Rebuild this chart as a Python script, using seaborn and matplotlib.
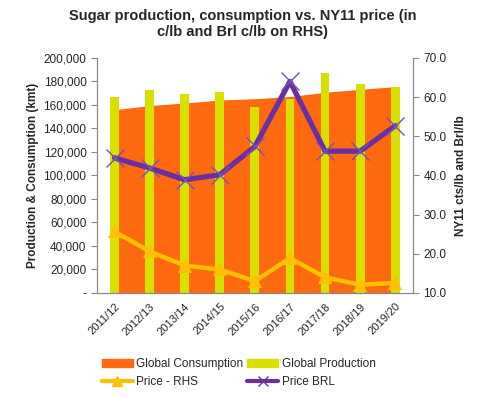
import numpy as np
import pandas as pd
import seaborn as sns
import matplotlib.pyplot as plt
from matplotlib.patches import Patch
from matplotlib.lines import Line2D

# values
seasons = ["2011/12", "2012/13", "2013/14", "2014/15", "2015/16",
           "2016/17", "2017/18", "2018/19", "2019/20"]
consumption = [156000, 159500, 161700, 164200, 165300, 167200, 170800, 173300, 175600]
production = [166800, 172400, 169600, 171300, 158600, 165100, 187200, 178100, 175300]
price_rhs = [25.7, 20.6, 17.0, 16.0, 13.0, 18.9, 14.0, 12.1, 12.6]
price_brl = [44.5, 41.9, 38.9, 40.2, 47.4, 64.0, 46.2, 46.2, 52.7]

orange = "#FF6A10"
yellow = "#D9E000"
gold = "#FFC000"
purple = "#6A2FA0"
grey = "#888888"

sns.set_style("white")
plt.rcParams["font.family"] = ["Liberation Sans", "DejaVu Sans"]

df = pd.DataFrame({"season": seasons, "consumption": consumption,
                   "production": production, "rhs": price_rhs, "brl": price_brl})
df["pos"] = np.arange(len(df))

fig = plt.figure(figsize=(4.8, 3.97), dpi=100)
ax = fig.add_axes([0.202, 0.262, 0.658, 0.592])

# consumption area behind the production bars
ax.fill_between(df["pos"], 0, df["consumption"], color=orange, lw=0, zorder=1)
sns.barplot(data=df, x="pos", y="production", color=yellow, width=0.25,
            saturation=1, ax=ax, zorder=2, native_scale=True)
for b in ax.patches:
    b.set_linewidth(0)

ax.set_xlim(-0.5, len(df) - 0.5)
ax.set_ylim(0, 200000)
ax.set_yticks(range(0, 200001, 20000))
ax.set_yticklabels(["-"] + [f"{v:,}" for v in range(20000, 200001, 20000)])
ax.set_xticks(df["pos"])
ax.set_xticklabels(seasons, rotation=45, ha="right", rotation_mode="anchor")
ax.set_xticks(np.arange(-0.5, len(df)), minor=True)
ax.tick_params(axis="x", which="major", length=0, labelsize=8, pad=6)
ax.tick_params(axis="x", which="minor", length=4, color=grey, direction="out")
ax.tick_params(axis="y", length=4, color=grey, direction="out", labelsize=8.5,
               left=True)
ax.set_xlabel("")
ax.set_ylabel("Production & Consumption (kmt)", fontsize=8.5, fontweight="bold",
              labelpad=3)

ax2 = ax.twinx()
sns.lineplot(data=df, x="pos", y="rhs", color=gold, lw=3.2, marker="^",
             markersize=10, markeredgewidth=0, ax=ax2)
sns.lineplot(data=df, x="pos", y="brl", color=purple, lw=3.8, marker="x",
             markersize=13, markeredgewidth=1.0, markeredgecolor="#7B4FB8", ax=ax2)
ax2.set_ylim(10, 70)
ax2.set_yticks(range(10, 71, 10))
ax2.set_yticklabels([f"{v:.1f}" for v in range(10, 71, 10)])
ax2.tick_params(axis="y", length=4, color=grey, direction="out", labelsize=8.5,
                right=True)
ax2.set_ylabel("NY11 cts/lb and Brl/lb", fontsize=8.5, fontweight="bold",
               labelpad=6)
ax2.set_xlabel("")

for a in (ax, ax2):
    a.spines["top"].set_visible(False)
    for s in ("left", "right", "bottom"):
        a.spines[s].set_color(grey)
        a.spines[s].set_linewidth(0.8)
    a.grid(False)

fig.suptitle("Sugar production, consumption vs. NY11 price (in\nc/lb and Brl c/lb on RHS)",
             fontsize=10.5, fontweight="bold", x=0.505, y=0.978, linespacing=1.2)

# legend filled row by row: consumption, production / rhs, brl
handles = [Patch(color=orange),
           Line2D([], [], color=gold, lw=3, marker="^", markersize=7),
           Patch(color=yellow),
           Line2D([], [], color=purple, lw=3, marker="x", markersize=7)]
labels = ["Global Consumption", "Price - RHS", "Global Production", "Price BRL"]
fig.legend(handles, labels, ncol=2, loc="lower left", bbox_to_anchor=(0.19, -0.005),
           frameon=False, fontsize=8.5, handlelength=2.6, handletextpad=0.3,
           columnspacing=0.35, labelspacing=0.55)

fig.savefig("out.png", dpi=100)
